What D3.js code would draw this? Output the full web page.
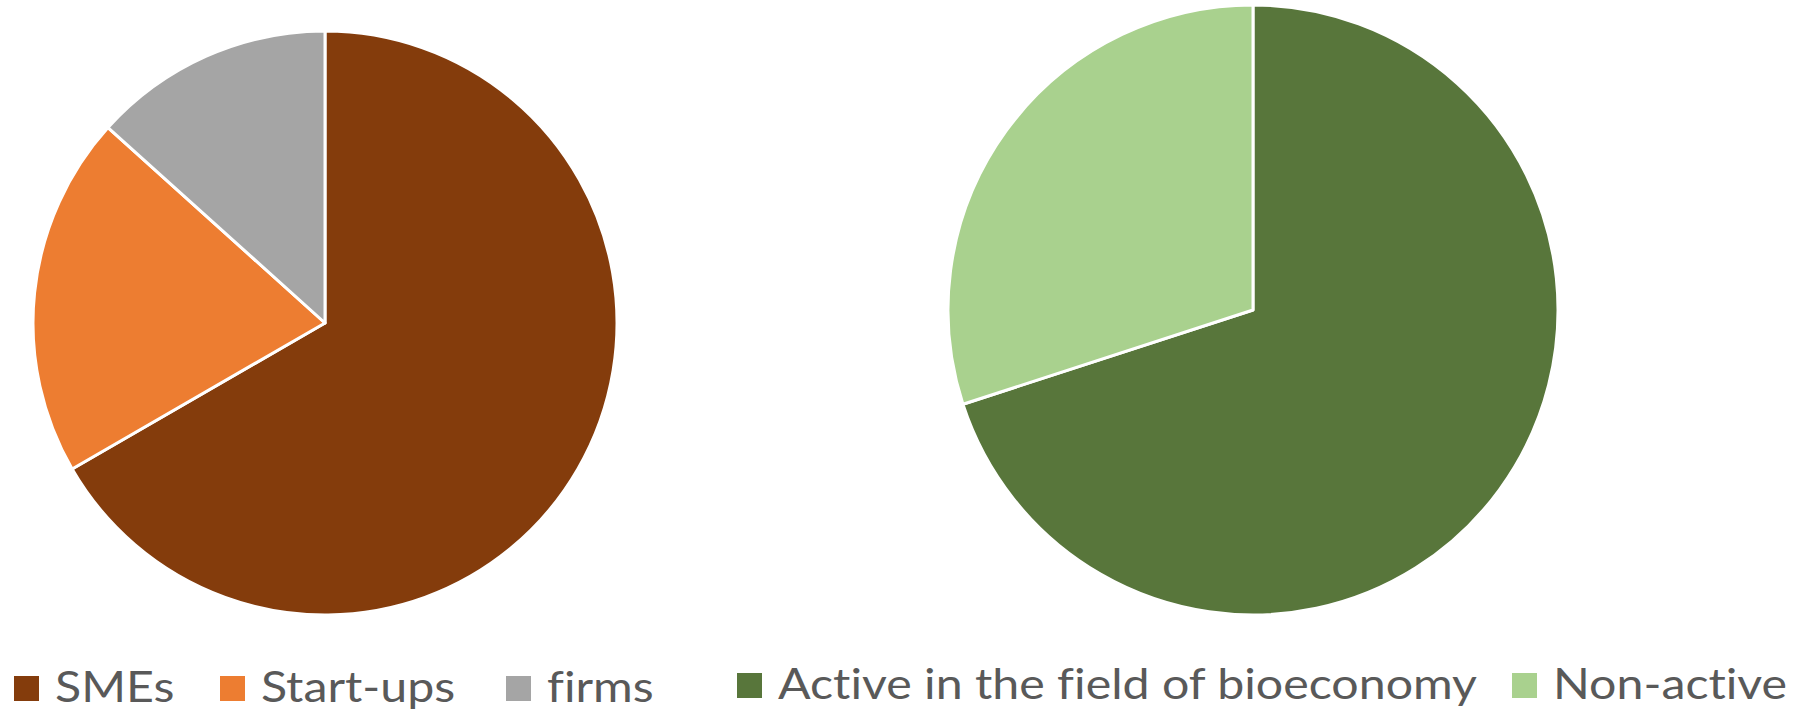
<!DOCTYPE html>
<html>
<head>
<meta charset="utf-8">
<script src="https://cdn.jsdelivr.net/npm/d3@7"></script>
<style>
  html, body { margin: 0; padding: 0; background: #fff; }
  svg { display: block; }
</style>
</head>
<body>
<svg id="chart"></svg>
<script>
// firm types (left pie)
const firmTypes = ["SMEs", "Start-ups", "firms"];
const firmValues = [100, 30, 20];
const firmColors = ["#843C0C", "#ED7D31", "#A5A5A5"];

// bioeconomy activity (right pie)
const activity = ["Active in the field of bioeconomy", "Non-active"];
const activityValues = [70, 30];
const activityColors = ["#58763B", "#A9D18E"];

const width = 1799, height = 712;

const svg = d3.select("#chart")
  .attr("width", width)
  .attr("height", height)
  .style("font-family", "Lato, 'Open Sans', sans-serif")
  .style("font-variant-ligatures", "none");

function drawPie(labels, values, colors, { cx, cy, r }) {
  const color = d3.scaleOrdinal().domain(labels).range(colors);
  const pie = d3.pie().sort(null).value(d => d.value);
  const arc = d3.arc().innerRadius(0).outerRadius(r);
  const data = labels.map((k, i) => ({ key: k, value: values[i] }));

  svg.append("g")
    .attr("transform", `translate(${cx},${cy})`)
    .selectAll("path")
    .data(pie(data))
    .join("path")
    .attr("d", arc)
    .attr("fill", d => color(d.data.key))
    .attr("stroke", "#fff")
    .attr("stroke-width", 3)
    .attr("stroke-linejoin", "round");
  return color;
}

const leftColor = drawPie(firmTypes, firmValues, firmColors, { cx: 325, cy: 323, r: 292 });
const rightColor = drawPie(activity, activityValues, activityColors, { cx: 1253, cy: 310, r: 305 });

// legends
function drawLegend(labels, color, xs, top) {
  const g = svg.append("g")
    .selectAll()
    .data(labels)
    .join("g")
    .attr("transform", (d, i) => `translate(${xs[i]},${top})`);
  g.append("rect")
    .attr("width", 25)
    .attr("height", 25)
    .attr("fill", color);
  g.append("text")
    .attr("transform", "translate(41,26) scale(1.15,1)")
    .attr("fill", "#595959")
    .style("font-size", "42px")
    .text(d => d);
}

drawLegend(firmTypes, leftColor, [14, 220, 506], 676);
drawLegend(activity, rightColor, [737, 1512], 673);
</script>
</body>
</html>
